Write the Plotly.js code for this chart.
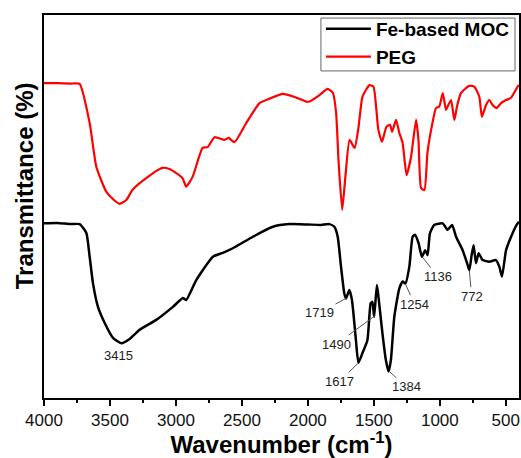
<!DOCTYPE html>
<html>
<head>
<meta charset="utf-8">
<script src="https://cdn.plot.ly/plotly-3.0.1.min.js"></script>
<style>html,body{margin:0;padding:0;background:#fff;}#chart{width:521px;height:458px;}</style>
</head>
<body>
<div id="chart"></div>
<script>
// PEG spectrum (wavenumber, transmittance a.u.)
const pegWn = [4000,3900,3800,3730,3654,3603,3527,3470,3427,3376,3330,3275,3149,3101,3050,2997,2950,2922,2873,2798,2760,2707,2631,2601,2556,2467,2367,2316,2192,2100,2013,1988,1912,1851,1811,1786,1768,1740,1716,1684,1646,1616,1586,1533,1503,1483,1466,1438,1405,1377,1362,1332,1307,1282,1252,1218,1180,1162,1142,1117,1094,1066,1029,1004,978,953,941,915,890,870,840,777,739,701,681,650,625,600,570,536,498,460,410,400];
const pegT  = [82.2,82.2,82.1,82.0,71.8,60.3,53.8,51.7,50.7,51.7,54.3,56.1,59.3,60.1,59.8,58.7,57.4,55.2,57.8,65.3,65.5,68.1,67.4,67.9,66.8,71.8,77.0,77.8,79.4,78.6,77.4,77.4,79.1,80.7,79.7,74.4,62.1,49.1,57.7,67.4,65.3,70.8,78.7,81.7,81.3,76.1,70.0,66.9,70.8,71.3,69.5,72.6,69.2,66.6,58.2,63.0,72.6,67.4,54.8,54.3,64.0,70.0,75.7,76.1,79.6,75.2,76.1,77.8,72.6,76.1,79.6,81.5,81.3,78.7,73.4,76.5,77.8,76.5,75.7,77.0,77.8,78.4,81.3,81.7];

// Fe-based MOC spectrum
const mocWn = [4000,3900,3800,3730,3679,3654,3629,3591,3540,3477,3414,3351,3275,3149,3023,2947,2922,2846,2720,2645,2569,2417,2266,2140,2000,1900,1837,1799,1774,1749,1724,1711,1686,1666,1636,1617,1587,1549,1524,1511,1498,1477,1465,1435,1409,1389,1371,1345,1307,1282,1261,1231,1206,1188,1161,1136,1111,1093,1075,1043,978,941,907,877,827,789,776,759,744,726,706,676,625,575,549,529,498,460,418,400];
const mocT  = [45.6,45.7,45.4,45.4,43.1,36.9,30.0,23.8,19.6,15.7,14.3,15.4,17.8,20.4,23.8,26.1,25.6,30.8,36.9,37.9,39.1,42.1,44.7,45.4,45.3,45.2,45.4,44.7,42.1,34.3,27.3,26.0,28.2,25.6,15.1,9.2,11.7,15.1,24.7,25.1,21.2,29.5,26.4,16.9,9.9,6.9,9.9,21.2,28.6,30.4,29.9,34.3,42.1,42.6,40.4,36.9,38.6,37.3,43.0,45.2,45.6,43.9,45.2,42.1,38.6,34.7,33.4,37.3,39.9,35.2,37.8,36.0,35.6,36.0,34.3,31.7,38.6,42.1,45.2,46.0];

// Peak labels: text, peak wavenumber, peak transmittance, label wavenumber, label transmittance, arrow?
const peakText  = ["3415","1719","1490","1617","1384","1254","1136","772"];
const peakWn    = [3415,1711,1490,1622,1382,1261,1132,776];
const peakT     = [14.3,26.0,21.5,9.0,6.9,29.8,36.8,33.2];
const labelWn   = [3434,1912,1784,1761,1254,1193,1017,759];
const labelT    = [11.0,22.3,14.1,4.3,2.9,24.5,31.7,26.6];
const hasArrow  = [false,true,true,true,true,true,true,true];

const xTicks = [4000,3500,3000,2500,2000,1500,1000,500];

const FONT = 'Arial, "Liberation Sans", sans-serif';

const traces = [
  {x: mocWn, y: mocT, name: 'Fe-based MOC', type: 'scatter', mode: 'lines',
   line: {color: '#000000', width: 2.5, shape: 'spline', smoothing: 0.5}},
  {x: pegWn, y: pegT, name: 'PEG', type: 'scatter', mode: 'lines',
   line: {color: '#ff0000', width: 2.2, shape: 'spline', smoothing: 0.5}}
];

const annotations = peakText.map((t, i) => hasArrow[i] ? ({
  text: t, x: peakWn[i], y: peakT[i], xref: 'x', yref: 'y',
  ax: labelWn[i], ay: labelT[i], axref: 'x', ayref: 'y',
  showarrow: true, arrowhead: 0, arrowwidth: 1, arrowcolor: '#555',
  font: {family: FONT, size: 13, color: '#222'}
}) : ({
  text: t, x: labelWn[i], y: labelT[i], xref: 'x', yref: 'y', showarrow: false,
  font: {family: FONT, size: 13, color: '#222'}
}));

annotations.push({
  text: '<b>Transmittance (%)</b>', textangle: -90,
  xref: 'paper', yref: 'paper', x: -0.042, y: 0.553,
  xanchor: 'center', yanchor: 'middle', showarrow: false,
  font: {family: FONT, size: 24, color: '#000'}
});

const layout = {
  width: 521, height: 458,
  margin: {l: 44, r: 2, t: 15, b: 60},
  paper_bgcolor: '#fff', plot_bgcolor: '#fff',
  showlegend: true,
  legend: {x: 0.583, y: 1.013, xanchor: 'left', yanchor: 'top',
    bgcolor: 'rgba(0,0,0,0)', borderwidth: 0,
    itemwidth: 45, tracegroupgap: 0,
    font: {family: FONT, size: 19, color: '#000', weight: 'bold'}},
  shapes: [{type: 'rect', xref: 'paper', yref: 'paper',
    x0: 0.583, x1: 0.9916, y0: 0.854, y1: 0.992,
    line: {color: '#666', width: 1}, fillcolor: '#fff', layer: 'above'}],
  xaxis: {
    range: [4000, 400], autorange: false,
    tickvals: xTicks, ticks: 'outside', ticklen: 6, tickwidth: 2, tickcolor: '#000',
    minor: {dtick: 250, ticks: 'outside', ticklen: 3, tickwidth: 1.5, tickcolor: '#000', showgrid: false},
    showline: true, linewidth: 2, linecolor: '#000', mirror: true,
    showgrid: false, zeroline: false,
    tickfont: {family: FONT, size: 17, color: '#111'},
    title: {text: '<b>Wavenumber (cm<sup>-1</sup>)</b>', standoff: 8,
      font: {family: FONT, size: 24, color: '#000'}}
  },
  yaxis: {
    range: [0, 100], autorange: false,
    showticklabels: false, tickvals: [45.7], ticks: 'inside', ticklen: 5, tickwidth: 1.5, tickcolor: '#000',
    showline: true, linewidth: 2, linecolor: '#000', mirror: true,
    showgrid: false, zeroline: false
  },
  annotations: annotations
};

Plotly.newPlot('chart', traces, layout, {staticPlot: true, displayModeBar: false});
</script>
</body>
</html>
